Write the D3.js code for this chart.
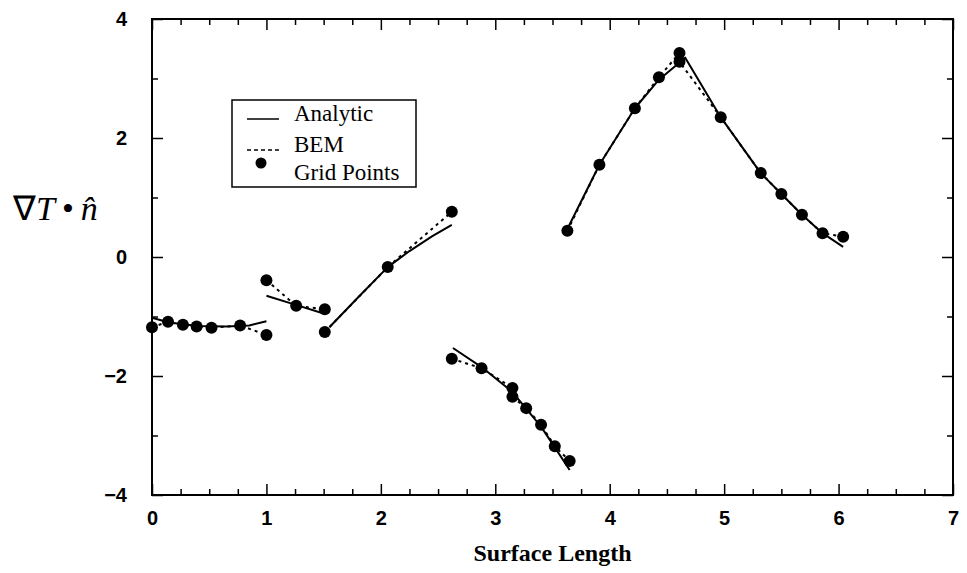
<!DOCTYPE html>
<html>
<head>
<meta charset="utf-8">
<script src="https://cdn.jsdelivr.net/npm/d3@7"></script>
<style>
  body { margin: 0; background: #fff; }
  svg { display: block; }
</style>
</head>
<body>
<div id="chart"></div>
<script>
"use strict";

// ---- data ----
// grid points (BEM values) per surface segment
let gridX = [
  [0.0, 0.14, 0.27, 0.39, 0.52, 0.77, 1.0],
  [1.0, 1.26, 1.51],
  [1.51, 2.06, 2.62],
  [2.62, 2.88, 3.15, 3.15, 3.27, 3.40, 3.52, 3.65],
  [3.63, 3.91, 4.22, 4.43, 4.61, 4.61, 4.97, 5.32, 5.50, 5.68, 5.86, 6.04]
];
let bemY = [
  [-1.18, -1.09, -1.14, -1.17, -1.19, -1.15, -1.31],
  [-0.39, -0.82, -0.88],
  [-1.26, -0.17, 0.76],
  [-1.71, -1.87, -2.20, -2.35, -2.54, -2.82, -3.18, -3.43],
  [0.44, 1.55, 2.50, 3.02, 3.43, 3.28, 2.35, 1.41, 1.06, 0.71, 0.40, 0.34]
];
// analytic solution per segment
let analyticX = [
  [0.0, 0.15, 0.4, 0.65, 0.85, 1.0],
  [1.0, 1.25, 1.5],
  [1.55, 1.8, 2.06, 2.25, 2.45, 2.62],
  [2.63, 2.88, 3.15, 3.4, 3.52, 3.65],
  [3.63, 3.91, 4.22, 4.43, 4.66, 4.97, 5.32, 5.5, 5.68, 5.86, 6.04]
];
let analyticY = [
  [-1.02, -1.10, -1.16, -1.17, -1.15, -1.08],
  [-0.65, -0.80, -0.95],
  [-1.18, -0.68, -0.17, 0.10, 0.35, 0.54],
  [-1.53, -1.85, -2.27, -2.85, -3.20, -3.58],
  [0.47, 1.55, 2.50, 2.98, 3.35, 2.35, 1.41, 1.06, 0.71, 0.40, 0.17]
];

let xTicks = [0, 1, 2, 3, 4, 5, 6, 7];
let yTicks = [-4, -2, 0, 2, 4];
let legendLabels = ["Analytic", "BEM", "Grid Points"];

// ---- layout ----
var width = 967,
    height = 573,
    plotLeft = 152, plotRight = 953,
    plotTop = 19, plotBottom = 495;

var xScale = d3.scaleLinear().domain([0, 7]).range([plotLeft, plotRight]);
var yScale = d3.scaleLinear().domain([-4, 4]).range([plotBottom, plotTop]);

var svg = d3.select('#chart').append('svg')
  .attr('width', width)
  .attr('height', height)
  .style('background', '#fff');

var tickFont = "'Liberation Sans', Arial, sans-serif";
var serif = "'Liberation Serif', 'Times New Roman', serif";

// minor tick positions
var xMinor = d3.range(0, 7.001, 0.25).filter(function(v) { return v % 1 !== 0; });
var yMinor = [-3, -1, 1, 3];

function styleAxis(g) {
  g.select('.domain').remove();
  g.selectAll('line').attr('stroke', '#000').attr('stroke-width', 1.5);
}

// bottom axis (ticks point inwards)
svg.append('g')
  .attr('transform', `translate(0,${plotBottom})`)
  .call(d3.axisBottom(xScale).tickValues(xTicks).tickSize(-11).tickPadding(16).tickFormat(d3.format('d')))
  .call(styleAxis)
  .selectAll('text')
    .style('font-family', tickFont).style('font-weight', 'bold').style('font-size', '20px').attr('fill', '#000');
svg.append('g')
  .attr('transform', `translate(0,${plotBottom})`)
  .call(d3.axisBottom(xScale).tickValues(xMinor).tickSize(-6).tickFormat(''))
  .call(styleAxis);

// top axis
svg.append('g')
  .attr('transform', `translate(0,${plotTop})`)
  .call(d3.axisTop(xScale).tickValues(xTicks).tickSize(-11).tickFormat(''))
  .call(styleAxis);
svg.append('g')
  .attr('transform', `translate(0,${plotTop})`)
  .call(d3.axisTop(xScale).tickValues(xMinor).tickSize(-6).tickFormat(''))
  .call(styleAxis);

// left axis
svg.append('g')
  .attr('transform', `translate(${plotLeft},0)`)
  .call(d3.axisLeft(yScale).tickValues(yTicks).tickSize(-11).tickPadding(25).tickFormat(d3.format('d')))
  .call(styleAxis)
  .selectAll('text')
    .style('font-family', tickFont).style('font-weight', 'bold').style('font-size', '20px').attr('fill', '#000');
svg.append('g')
  .attr('transform', `translate(${plotLeft},0)`)
  .call(d3.axisLeft(yScale).tickValues(yMinor).tickSize(-6).tickFormat(''))
  .call(styleAxis);

// right axis
svg.append('g')
  .attr('transform', `translate(${plotRight},0)`)
  .call(d3.axisRight(yScale).tickValues(yTicks).tickSize(-11).tickFormat(''))
  .call(styleAxis);
svg.append('g')
  .attr('transform', `translate(${plotRight},0)`)
  .call(d3.axisRight(yScale).tickValues(yMinor).tickSize(-6).tickFormat(''))
  .call(styleAxis);

// frame
svg.append('rect')
  .attr('x', plotLeft).attr('y', plotTop)
  .attr('width', plotRight - plotLeft).attr('height', plotBottom - plotTop)
  .attr('fill', 'none').attr('stroke', '#000').attr('stroke-width', 2);

// axis titles
svg.append('text')
  .attr('x', (plotLeft + plotRight) / 2).attr('y', 561)
  .attr('text-anchor', 'middle')
  .style('font-family', serif).style('font-weight', 'bold').style('font-size', '24px')
  .text('Surface Length');

// y label: nabla T dot n-hat (combining circumflex on the n)
var yLab = svg.append('text')
  .attr('x', 13).attr('y', 220)
  .style('font-family', serif).style('font-size', '34px');
yLab.append('tspan').text('\u2207');
yLab.append('tspan').style('font-style', 'italic').text('T');
yLab.append('tspan').attr('dx', 7).text('\u2022');
yLab.append('tspan').attr('dx', 7).style('font-style', 'italic').text('n\u0302');

// ---- series ----
var analyticLine = d3.line()
  .x(function(d) { return xScale(d[0]); })
  .y(function(d) { return yScale(d[1]); });

var bemLine = d3.line()
  .x(function(d) { return xScale(d[0]); })
  .y(function(d) { return yScale(d[1]); });

var bemSegs = gridX.map(function(xs, s) {
  return xs.map(function(x, i) { return [x, bemY[s][i]]; });
});
var analyticSegs = analyticX.map(function(xs, s) {
  return xs.map(function(x, i) { return [x, analyticY[s][i]]; });
});

svg.append('g').selectAll('path').data(bemSegs)
  .enter().append('path')
    .attr('d', bemLine)
    .attr('fill', 'none')
    .attr('stroke', '#000')
    .attr('stroke-width', 2)
    .attr('stroke-dasharray', '3,4');

svg.append('g').selectAll('path').data(analyticSegs)
  .enter().append('path')
    .attr('d', analyticLine)
    .attr('fill', 'none')
    .attr('stroke', '#000')
    .attr('stroke-width', 2)
    .attr('stroke-linejoin', 'round');

var allPts = [].concat.apply([], bemSegs);
svg.append('g').selectAll('circle').data(allPts)
  .enter().append('circle')
    .attr('cx', function(d) { return xScale(d[0]); })
    .attr('cy', function(d) { return yScale(d[1]); })
    .attr('r', 6)
    .attr('fill', '#000');

// ---- legend ----
var legend = svg.append('g');
legend.append('rect')
  .attr('x', 232).attr('y', 100)
  .attr('width', 184).attr('height', 87)
  .attr('fill', '#fff').attr('stroke', '#000').attr('stroke-width', 1.5);

var rowY = [119, 150];
legend.append('line')
  .attr('x1', 247).attr('x2', 279).attr('y1', rowY[0]).attr('y2', rowY[0])
  .attr('stroke', '#000').attr('stroke-width', 1.5);
legend.append('line')
  .attr('x1', 247).attr('x2', 279).attr('y1', rowY[1]).attr('y2', rowY[1])
  .attr('stroke', '#000').attr('stroke-width', 1.5).attr('stroke-dasharray', '4,3');
legend.append('circle')
  .attr('cx', 261).attr('cy', 163).attr('r', 5.5).attr('fill', '#000');

legend.selectAll('text.lab').data(legendLabels)
  .enter().append('text')
    .attr('class', 'lab')
    .attr('x', 294)
    .attr('y', function(d, i) { return [121, 152, 180][i]; })
    .style('font-family', serif).style('font-size', '23px')
    .text(function(d) { return d; });
</script>
</body>
</html>
